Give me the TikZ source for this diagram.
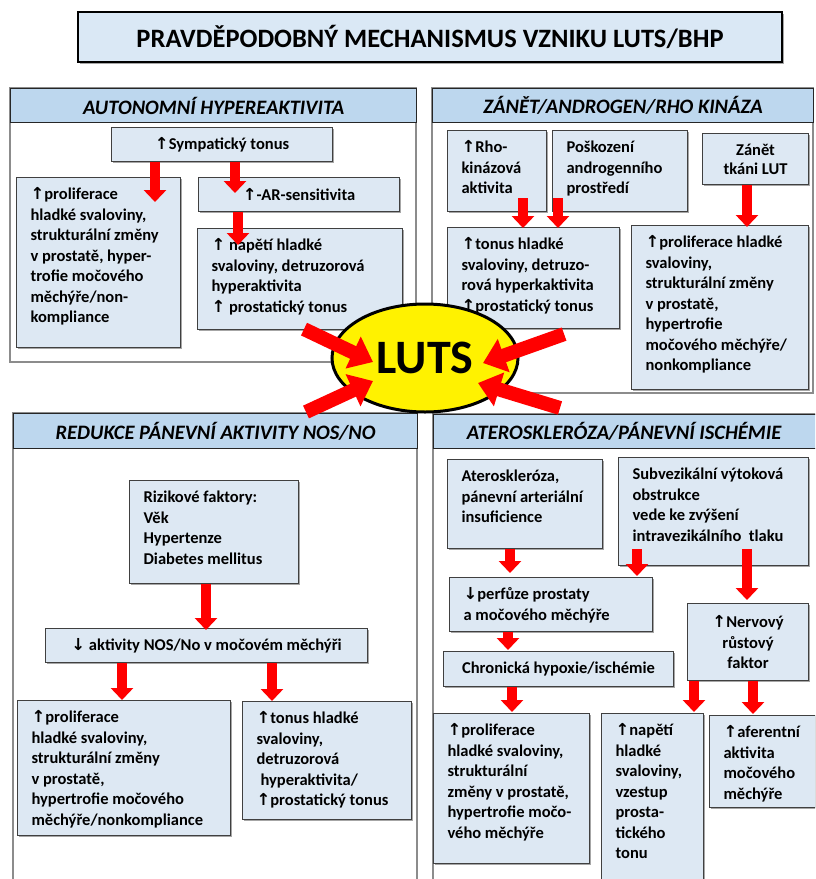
\documentclass[tikz,border=0pt]{standalone}
\usepackage{fontspec}
\setmainfont{Carlito}
\newfontfamily\arrf{DejaVu Sans}
\usetikzlibrary{arrows.meta,calc,shadows,shapes.geometric}
\definecolor{boxfill}{HTML}{DDE8F3}
\definecolor{hdrfill}{HTML}{BDD7EE}
\definecolor{titlefill}{HTML}{DAE8F5}
\definecolor{panelgray}{HTML}{8C8C8C}
\definecolor{boxline}{HTML}{404040}
\newcommand\up{{\arrf\bfseries ↑}}
\newcommand\dn{{\arrf\bfseries ↓}}
\tikzset{
 panel/.style={draw=panelgray, line width=1.2pt, fill=white},
 hdr/.style={draw=black!85, line width=1.2pt, fill=hdrfill, anchor=north west, inner sep=0pt,
   font=\fontsize{20.5pt}{22pt}\selectfont\bfseries\itshape},
 box/.style={draw=boxline, line width=1.1pt, fill=boxfill,
   drop shadow={shadow xshift=1.5pt, shadow yshift=-1.5pt, opacity=0.35, fill=black},
   font=\fontsize{16.5pt}{20.5pt}\selectfont\bfseries},
 rarrow/.style={draw=red, line width=10pt, -{Triangle[width=22pt,length=12pt]}},
 barrow/.style={draw=red, line width=14pt, -{Triangle[width=34pt,length=22pt]}},
}
% left-aligned, top-aligned box: name, x, y, w, h, text
\newcommand\tbox[6]{\node[box, anchor=north west, inner sep=0pt] (#1) at (#2,#3)
  {\parbox[c][#5pt][t]{#4pt}{\raggedright\leftskip=14pt\rule{0pt}{22pt}#6}};}
% centred box
\newcommand\cbox[6]{\node[box, anchor=north west, inner sep=0pt, minimum width=#4pt,
  minimum height=#5pt, align=center] (#1) at (#2,#3) {#6};}
% vertical red arrow: src, dst, x, start offset, tip offset
\newcommand\varr[5]{\coordinate (#1-#2-x) at (#3,0);
  \draw[rarrow] ($(#1.south -| #1-#2-x)+(0,#4)$) -- ($(#2.north -| #1-#2-x)+(0,#5)$);}
\begin{document}
\begin{tikzpicture}[x=1pt,y=-1pt]
\useasboundingbox (0,0) rectangle (815,879);
\clip (0,0) rectangle (815,879);
\fill[white] (0,0) rectangle (815,879);

% panels
\draw[panel] (10,88) rectangle (416,362);
\node[hdr, minimum width=406pt, minimum height=34pt] (hTL) at (10,88) {AUTONOMNÍ HYPEREAKTIVITA};
\draw[panel] (432,88) rectangle (813,393);
\node[hdr, minimum width=381pt, minimum height=34pt] (hTR) at (432,88) {ZÁNĚT/ANDROGEN/RHO KINÁZA};
\draw[panel] (13,413) rectangle (417,900);
\node[hdr, minimum width=404pt, minimum height=35pt] (hBL) at (13,413) {REDUKCE PÁNEVNÍ AKTIVITY NOS/NO};
\draw[panel] (433,414) rectangle (820,900);
\node[hdr, minimum width=387pt, minimum height=34pt] (hBR) at (433,414) {\hspace*{-4pt}ATEROSKLERÓZA/PÁNEVNÍ ISCHÉMIE\hspace*{2pt}};

% top-left boxes
\cbox{symp}{111}{127}{221}{34}{\up Sympatický tonus}
\tbox{prolifA}{16}{177}{164}{170}{\up proliferace\\hladké svaloviny,\\strukturální změny\\v prostatě, hyper-\\trofie močového\\měchýře/non-\\kompliance}
\cbox{ar}{198}{177}{201}{34}{\up-AR-sensitivita}
\tbox{napeti}{197}{228}{205}{101}{\up{} napětí hladké\\svaloviny, detruzorová\\hyperaktivita\\\up{} prostatický tonus}

% top-right boxes
\tbox{rho}{447}{130}{99}{81}{\up Rho-\\kinázová\\aktivita}
\tbox{posk}{552}{130}{135}{81}{Poškození\\androgenního\\prostředí}
\node[box, anchor=north west, inner sep=0pt, minimum width=106pt, minimum height=51pt, align=center,
  font=\fontsize{16.5pt}{19pt}\selectfont\bfseries] (zanet) at (702,133) {Zánět\\tkáni LUT};
\tbox{tonus}{447}{227}{172}{101}{\up tonus hladké\\svaloviny, detruzo-\\rová hyperkaktivita\\\up prostatický tonus}
\tbox{prolifB}{631}{225}{177}{164}{\up proliferace hladké\\svaloviny,\\strukturální změny\\v prostatě,\\hypertrofie\\močového měchýře/\\nonkompliance}

% bottom-left boxes
\tbox{riz}{129}{480}{169}{103}{Rizikové faktory:\\Věk\\Hypertenze\\Diabetes mellitus}
\cbox{nos}{45}{628}{322}{34}{\dn{} aktivity NOS/No v močovém měchýři}
\tbox{prolifC}{17}{700}{213}{135}{\up proliferace\\hladké svaloviny,\\strukturální změny\\v prostatě,\\hypertrofie močového\\měchýře/nonkompliance}
\tbox{tonusC}{242}{701}{169}{118}{\up tonus hladké\\svaloviny,\\detruzorová\\\hspace*{4pt}hyperaktivita/\\\up prostatický tonus}

% bottom-right boxes
\tbox{ater}{447}{459}{155}{89}{Ateroskleróza,\\pánevní arteriální\\insuficience}
\tbox{subv}{618}{457}{190}{108}{Subvezikální výtoková\\obstrukce\\vede ke zvýšení\\intravezikálního\ \ tlaku}
\tbox{perf}{449}{577}{203}{54}{\dn perfůze prostaty\\a močového měchýře}
\cbox{chron}{443}{651}{230}{35}{Chronická hypoxie/ischémie}
\cbox{nerv}{687}{603}{121}{77}{\up Nervový\\růstový\\faktor}
\tbox{bA}{433}{713}{156}{150}{\up proliferace\\hladké svaloviny,\\strukturální\\změny v prostatě,\\hypertrofie močo-\\vého měchýře}
\tbox{bB}{601}{713}{102}{200}{\up napětí\\hladké\\svaloviny,\\vzestup\\prosta-\\tického\\tonu}
\tbox{bC}{709}{715}{106}{92}{\up aferentní\\aktivita\\močového\\měchýře}

% small red arrows
\varr{symp}{prolifA}{155}{0}{25}
\varr{symp}{ar}{235}{0}{16}
\varr{ar}{napeti}{238}{0}{17}
\varr{rho}{tonus}{523}{-14}{1}
\varr{posk}{tonus}{558}{-14}{1}
\varr{zanet}{prolifB}{747}{0}{2}
\varr{riz}{nos}{206}{0}{2}
\varr{nos}{prolifC}{122}{0}{0}
\varr{nos}{tonusC}{272}{0}{0}
\varr{ater}{perf}{510}{0}{-4}
\varr{subv}{perf}{637}{-17}{-1}
\varr{subv}{nerv}{747}{-17}{-3}
\varr{perf}{chron}{508}{0}{-1}
\varr{chron}{bA}{512}{0}{-1}
\varr{nerv}{bB}{694}{0}{-1}
\varr{nerv}{bC}{753}{0}{-1}

% LUTS
\node[ellipse, draw=black, line width=3pt, fill=yellow, inner sep=0pt,
  minimum width=186pt, minimum height=108pt,
  font=\fontsize{48pt}{50pt}\selectfont\bfseries] (luts) at (425,358) {LUTS};
\draw[barrow] ($(napeti.south west)+(107,-1)$) -- ($(luts.center)+(-52,4)$);
\draw[barrow] ($(tonus.south east)+(-56,5)$) -- ($(luts.center)+(58,5)$);
\draw[barrow] ($(hBL.north west)+(293,-1)$) -- ($(luts.center)+(-52,23)$);
\draw[barrow] ($(hBR.north west)+(127,-6)$) -- ($(luts.center)+(53,25)$);

% title
\node[draw=black, line width=2.2pt, fill=titlefill, minimum width=704pt, minimum height=50pt,
  drop shadow={shadow xshift=2pt, shadow yshift=-2pt, opacity=0.35, fill=black},
  font=\fontsize{26.5pt}{28pt}\selectfont\bfseries] (title) at (430,37)
  {PRAVDĚPODOBNÝ MECHANISMUS VZNIKU LUTS/BHP};
\end{tikzpicture}
\end{document}
